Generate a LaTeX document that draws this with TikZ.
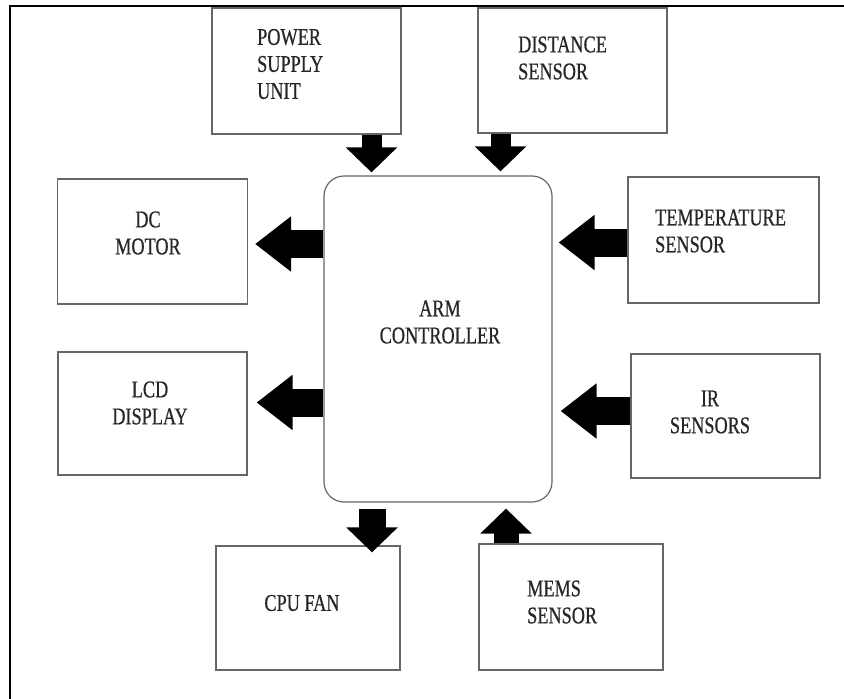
\documentclass[tikz,border=0pt]{standalone}
\usepackage{fontspec}
\newfontfamily\lblfont{Liberation Serif}[FakeStretch=0.76,FakeBold=0.6]
\usetikzlibrary{arrows.meta}

\tikzset{
  box/.style={draw=black!60, line width=1.2pt, inner sep=0pt},
  lbl/.style={font=\lblfont\fontsize{24}{27}\selectfont, text=black!85, inner sep=0pt},
  vfat/.style={line width=20pt, -{Triangle[length=25pt,width=50pt]}},
  hfat/.style={line width=28pt, -{Triangle[length=36pt,width=53pt]}}
}

\begin{document}
\begin{tikzpicture}[x=1pt,y=-1pt]
  \useasboundingbox (0,0) rectangle (844,699);
  \draw[line width=2pt] (844,6) -- (10,6) -- (10,699);

  \node[box, rounded corners=20pt, minimum width=228pt, minimum height=326pt] (arm) at (438,339) {};
  \node[box, minimum width=189pt, minimum height=126pt] (psu)  at (306.5,71)  {};
  \node[box, minimum width=189pt, minimum height=125pt] (dist) at (572.5,70.5) {};
  \node[box, minimum width=190pt, minimum height=125pt] (dc)   at (152.5,241.5) {};
  \node[box, minimum width=189pt, minimum height=123pt] (lcd)  at (152.5,413.5) {};
  \node[box, minimum width=191pt, minimum height=126pt] (temp) at (723.5,240) {};
  \node[box, minimum width=189pt, minimum height=124pt] (ir)   at (725.5,416) {};
  \node[box, minimum width=184pt, minimum height=124pt] (fan)  at (308,608)   {};
  \node[box, minimum width=184pt, minimum height=126pt] (mems) at (571,607)   {};

  \node[lbl, align=center] (arm-txt) at (440,322) {ARM\\CONTROLLER};
  \node[lbl, align=left, anchor=west] (psu-txt) at (257,64) {POWER\\SUPPLY\\UNIT};
  \node[lbl, align=left, anchor=west] (dist-txt) at (518,58) {DISTANCE\\SENSOR};
  \node[lbl, align=center] (dc-txt) at (148,233) {DC\\MOTOR};
  \node[lbl, align=center] (lcd-txt) at (150,403) {LCD\\DISPLAY};
  \node[lbl, align=left, anchor=west] (temp-txt) at (655,231) {TEMPERATURE\\SENSOR};
  \node[lbl, align=center] (ir-txt) at (710,412) {IR\\SENSORS};
  \node[lbl, align=center] (fan-txt) at (302,603) {CPU FAN};
  \node[lbl, align=left, anchor=west] (mems-txt) at (527,602) {MEMS\\SENSOR};

  \coordinate (psu-out) at ([xshift=65pt]psu.south);
  \coordinate (dist-out) at ([xshift=-72pt]dist.south);
  \coordinate (dc-in) at ([yshift=-2.5pt]dc.east);
  \coordinate (lcd-in) at ([yshift=11pt]lcd.east);
  \coordinate (temp-out) at ([yshift=-2.5pt]temp.west);
  \coordinate (ir-out) at ([yshift=5pt]ir.west);
  \coordinate (fan-in) at ([xshift=64pt]fan.north);
  \coordinate (mems-out) at ([xshift=-65pt]mems.north);

  \draw[vfat, shorten >=3pt] (psu-out) -- (psu-out |- arm.north);
  \draw[vfat, shorten >=4pt] (dist-out) -- (dist-out |- arm.north);
  \draw[hfat, shorten >=7pt] (dc-in -| arm.west) -- (dc-in);
  \draw[hfat, shorten >=9pt] (lcd-in -| arm.west) -- (lcd-in);
  \draw[hfat, shorten >=6pt] (temp-out) -- (temp-out -| arm.east);
  \draw[hfat, shorten >=8pt] (ir-out) -- (ir-out -| arm.east);
  \draw[vfat, line width=27pt, shorten <=6pt, shorten >=-7pt] (fan-in |- arm.south) -- (fan-in);
  \draw[vfat, line width=25pt, shorten >=6pt] (mems-out) -- (mems-out |- arm.south);
\end{tikzpicture}
\end{document}
